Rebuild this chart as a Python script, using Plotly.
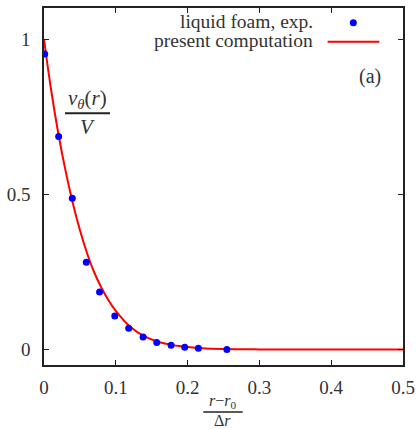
import plotly.graph_objects as go

# experimental points (liquid foam)
exp_x = [0.001, 0.0204, 0.0394, 0.0589, 0.0774, 0.0986, 0.118, 0.138, 0.157, 0.177, 0.196, 0.215, 0.2547]
exp_y = [0.952, 0.686, 0.4875, 0.281, 0.185, 0.108, 0.0685, 0.0405, 0.0225, 0.014, 0.0074, 0.004, 0.0]

# present computation curve
comp_x = [0.0, 0.01, 0.02, 0.03, 0.04, 0.05, 0.06, 0.07, 0.08, 0.09, 0.10, 0.12, 0.14, 0.16,
          0.18, 0.20, 0.22, 0.25, 0.30, 0.35, 0.40, 0.45, 0.50]
comp_y = [1.0, 0.835, 0.695, 0.576, 0.473, 0.385, 0.31, 0.248, 0.199, 0.158, 0.124, 0.073,
          0.042, 0.024, 0.014, 0.008, 0.004, 0.0015, 0.0003, 0.0, 0.0, 0.0, 0.0]

x_ticks = [0, 0.1, 0.2, 0.3, 0.4, 0.5]
x_ticklabels = ["0", "0.1", "0.2", "0.3", "0.4", "0.5"]
y_ticks = [0, 0.5, 1]
y_ticklabels = ["0", "0.5", "1"]

FONT = "'Liberation Serif', 'Times New Roman', Times, serif"
TXT = "#333333"

fig = go.Figure()
fig.add_trace(go.Scatter(x=comp_x, y=comp_y, mode="lines", line=dict(color="#ff0000", width=2),
                         line_shape="spline", name="present computation", showlegend=False))
fig.add_trace(go.Scatter(x=exp_x, y=exp_y, mode="markers",
                         marker=dict(color="#0000ff", size=7, line=dict(width=0)),
                         name="liquid foam, exp.", showlegend=False))

axis_common = dict(showline=True, linecolor="#222222", linewidth=1.5, mirror="ticks",
                   ticks="inside", ticklen=5, tickwidth=1.2, tickcolor="#222222",
                   showgrid=False, zeroline=False, automargin=False,
                   tickfont=dict(family=FONT, size=19, color=TXT))

fig.update_xaxes(range=[0, 0.5], tickvals=x_ticks, ticktext=x_ticklabels, ticklabelstandoff=4, **axis_common)
fig.update_yaxes(range=[-0.05, 1.1], tickvals=y_ticks, ticktext=y_ticklabels, ticklabelstandoff=8, **axis_common)

annotations = [
    dict(text="liquid foam, exp.", x=0.7549, y=0.9608, xanchor="right", yanchor="middle", size=19.5),
    dict(text="present computation", x=0.7549, y=0.9076, xanchor="right", yanchor="middle", size=19.5),
    dict(text="(a)", x=0.944, y=0.8095, xanchor="right", yanchor="middle", size=20),
    dict(text="<i>v</i><sub><i>θ</i></sub>(<i>r</i>)", x=0.121, y=0.745, xanchor="center", yanchor="middle", size=21),
    dict(text="<i>V</i>", x=0.121, y=0.668, xanchor="center", yanchor="middle", size=21),
    dict(text="<i>r</i>−<i>r</i><sub>0</sub>", x=0.4986, y=-0.103, xanchor="center", yanchor="middle", size=16),
    dict(text="Δ<i>r</i>", x=0.4986, y=-0.156, xanchor="center", yanchor="middle", size=16),
]
for a in annotations:
    size = a.pop("size", 18)
    fig.add_annotation(xref="paper", yref="paper", showarrow=False,
                       font=dict(family=FONT, size=size, color=TXT), **a)

shapes = [
    # legend line sample
    dict(type="line", xref="paper", yref="paper", x0=0.790, x1=0.934, y0=0.9056, y1=0.9056,
         line=dict(color="#ff0000", width=2)),
    # legend dot sample
    dict(type="circle", xref="paper", yref="paper", xsizemode="pixel", ysizemode="pixel",
         xanchor=0.8616, yanchor=0.9588, x0=-3.5, x1=3.5, y0=-3.5, y1=3.5,
         fillcolor="#0000ff", line=dict(width=0)),
    # y label fraction bar
    dict(type="line", xref="paper", yref="paper", x0=0.0585, x1=0.1838, y0=0.705, y1=0.705,
         line=dict(color="#222222", width=2)),
    # x label fraction bar
    dict(type="line", xref="paper", yref="paper", x0=0.4437, x1=0.5535, y0=-0.1315, y1=-0.1315,
         line=dict(color="#222222", width=1.5)),
]
for s in shapes:
    fig.add_shape(**s)

fig.update_layout(width=419, height=429, margin=dict(l=44, r=16, t=8, b=64),
                  paper_bgcolor="white", plot_bgcolor="white", showlegend=False)

fig.write_html("out.html", config={"displayModeBar": False},
               post_script="document.body.style.margin='0';document.body.style.overflow='hidden';")
